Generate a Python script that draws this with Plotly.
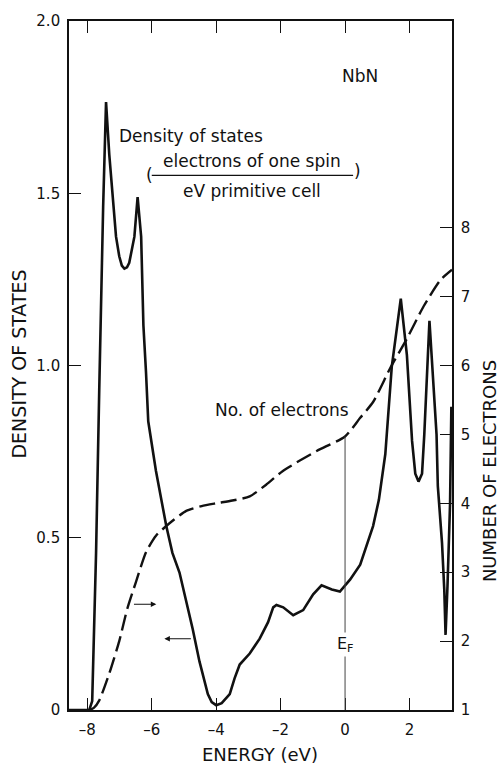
import numpy as np
import plotly.graph_objects as go

# Density of states of NbN (electrons of one spin per eV per primitive cell)
dos_energy = [-8.57, -7.94, -7.85, -7.73, -7.63, -7.58, -7.51, -7.42, -7.32, -7.11,
              -7.01, -6.93, -6.85, -6.77, -6.70, -6.54, -6.44, -6.33, -6.26, -6.18,
              -6.11, -5.87, -5.55, -5.36, -5.14, -4.73, -4.52, -4.26, -4.14, -4.00,
              -3.83, -3.58, -3.43, -3.27, -2.96, -2.65, -2.39, -2.23, -2.13, -1.92,
              -1.61, -1.30, -0.99, -0.73, -0.41, -0.16, 0.16, 0.47, 0.87, 1.05,
              1.25, 1.45, 1.73, 1.92, 2.08, 2.18, 2.28, 2.39, 2.46, 2.62,
              2.71, 2.84, 2.88, 3.01, 3.08, 3.12, 3.18, 3.26, 3.30]
dos_values = [0.0, 0.0, 0.026, 0.456, 0.935, 1.17, 1.46, 1.765, 1.613, 1.374,
              1.317, 1.29, 1.281, 1.285, 1.298, 1.374, 1.489, 1.374, 1.116, 0.981,
              0.838, 0.694, 0.534, 0.456, 0.399, 0.235, 0.141, 0.046, 0.023, 0.014,
              0.02, 0.046, 0.092, 0.132, 0.164, 0.207, 0.255, 0.298, 0.305, 0.298,
              0.275, 0.290, 0.336, 0.362, 0.350, 0.344, 0.379, 0.422, 0.534, 0.61,
              0.743, 0.996, 1.194, 1.030, 0.781, 0.686, 0.663, 0.686, 0.80, 1.13,
              1.0, 0.80, 0.65, 0.485, 0.35, 0.218, 0.36, 0.6, 0.88]

# Integrated number of electrons
n_energy = [-7.94, -7.80, -7.63, -7.32, -7.01, -6.76, -6.49, -6.18, -5.87, -5.45,
            -4.93, -4.45, -4.00, -3.50, -2.96, -2.45, -1.93, -0.88, 0.00, 0.47,
            0.87, 1.40, 1.92, 2.44, 2.96, 3.32]
n_values = [1.0, 1.03, 1.14, 1.53, 2.0, 2.47, 2.86, 3.29, 3.53, 3.71,
            3.89, 3.96, 4.0, 4.04, 4.10, 4.27, 4.47, 4.76, 4.97, 5.24,
            5.47, 5.96, 6.39, 6.86, 7.24, 7.39]

energy_ticks = [-8, -6, -4, -2, 0, 2]
energy_labels = ["\u20138", "\u20136", "\u20134", "\u20132", "0", "2"]
dos_ticks = [0, 0.5, 1.0, 1.5, 2.0]
dos_labels = ["0", "0.5", "1.0", "1.5", "2.0"]
n_ticks = [1, 2, 3, 4, 5, 6, 7, 8]
n_labels = ["1", "2", "3", "4", "5", "6", "7", "8"]
fermi_energy = 0.0

FONT = "'DejaVu Sans', 'Open Sans', sans-serif"
INK = "#111111"

W, H = 500, 768
L, R, T, B = 69, 48, 12, 58


def paper_x(px):
    return (px - L) / (W - L - R)


def paper_y(py):
    return (H - B - py) / (H - T - B)


fig = go.Figure()

fig.add_trace(go.Scatter(
    x=dos_energy, y=dos_values, mode="lines",
    line=dict(color=INK, width=2.6), yaxis="y", hoverinfo="skip"))

fig.add_trace(go.Scatter(
    x=n_energy, y=n_values, mode="lines", yaxis="y2",
    line=dict(color=INK, width=2.4, dash="16px,6px", shape="spline", smoothing=0.6),
    hoverinfo="skip"))

# Fermi level marker
n_at_fermi = float(np.interp(fermi_energy, n_energy, n_values))
fig.add_shape(type="line", xref="x", yref="y2", x0=fermi_energy, x1=fermi_energy,
              y0=1, y1=n_at_fermi, line=dict(color="#444444", width=1))

axis_common = dict(showline=True, linecolor=INK, linewidth=1.6, showgrid=False,
                   zeroline=False, ticks="inside", ticklen=12, tickwidth=1.4,
                   tickcolor=INK, tickfont=dict(family=FONT, size=15, color=INK))

fig.update_layout(
    width=W, height=H,
    margin=dict(l=L, r=R, t=T, b=B),
    paper_bgcolor="white", plot_bgcolor="white",
    showlegend=False,
    font=dict(family=FONT, color=INK),
    xaxis=dict(range=[-8.57, 3.32], tickvals=energy_ticks, ticktext=energy_labels,
               mirror="ticks", ticklabelstandoff=5, **axis_common),
    yaxis=dict(range=[0, 2.0], tickvals=dos_ticks, ticktext=dos_labels,
               mirror=True, ticklabelstandoff=4, **axis_common),
    yaxis2=dict(range=[1, 11.0], tickvals=n_ticks, ticktext=n_labels,
                overlaying="y", side="right", ticklabelstandoff=4, **axis_common),
)

annotations = [
    # axis titles
    dict(text="ENERGY (eV)", xref="paper", yref="paper", x=paper_x(260), y=paper_y(755),
         font=dict(size=18)),
    dict(text="DENSITY OF STATES", xref="paper", yref="paper", x=paper_x(19), y=paper_y(360),
         textangle=-90, font=dict(size=19)),
    dict(text="NUMBER OF ELECTRONS", xref="paper", yref="paper", x=paper_x(489), y=paper_y(468),
         textangle=-90, font=dict(size=18)),
    # labels inside the plot
    dict(text="NbN", x=0.47, y=1.84, font=dict(size=17)),
    dict(text="Density of states", x=-7.07, y=1.667, xanchor="left", font=dict(size=17)),
    dict(text="electrons of one spin", x=-2.88, y=1.593, font=dict(size=17)),
    dict(text="eV primitive cell", x=-2.88, y=1.506, font=dict(size=17)),
    dict(text="(", x=-6.07, y=1.552, font=dict(size=17)),
    dict(text=")", x=0.38, y=1.565, font=dict(size=17)),
    dict(text="No. of electrons", x=-4.11, y=0.872, xanchor="left", font=dict(size=17)),
    dict(text="E<sub>F</sub>", x=fermi_energy, y=0.189, bgcolor="white", borderpad=1,
         font=dict(size=16)),
    # arrows pointing to the axis each curve belongs to
    dict(text="", x=-5.86, y=0.307, ax=-6.60, ay=0.307, axref="x", ayref="y",
         showarrow=True, arrowhead=2, arrowsize=1, arrowwidth=1.1, arrowcolor=INK),
    dict(text="", x=-5.61, y=0.207, ax=-4.74, ay=0.207, axref="x", ayref="y",
         showarrow=True, arrowhead=2, arrowsize=1, arrowwidth=1.1, arrowcolor=INK),
]
for a in annotations:
    a.setdefault("showarrow", False)
    a.setdefault("xref", "x")
    a.setdefault("yref", "y")
    a.setdefault("xanchor", "center")
    a.setdefault("yanchor", "middle")
    a["font"] = dict(family=FONT, color=INK, **a.get("font", {}))
fig.update_layout(annotations=annotations)

# fraction bar of the units label
fig.add_shape(type="line", xref="x", yref="y", x0=-6.0, x1=0.25, y0=1.552, y1=1.552,
              line=dict(color=INK, width=1.4))

fig.write_html("out.html")
